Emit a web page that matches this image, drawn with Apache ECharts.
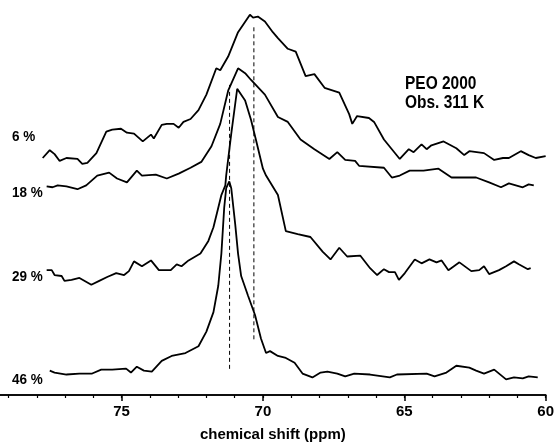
<!DOCTYPE html>
<html>
<head>
<meta charset="utf-8">
<script src="https://cdn.jsdelivr.net/npm/echarts@6/dist/echarts.min.js"></script>
<style>
  html, body { margin: 0; padding: 0; background: #fff; }
  #chart { width: 557px; height: 447px; }
</style>
</head>
<body>
<div id="chart"></div>
<script>
// spectra, [ppm, intensity incl. stacking offset]
const trace6 = [
  [77.79, 243], [77.54, 251], [77.37, 247], [77.19, 240], [76.95, 243], [76.56, 242],
  [76.39, 237], [76.21, 238], [75.89, 248], [75.54, 270], [75.33, 272], [75.02, 273],
  [74.81, 269], [74.56, 268], [74.25, 260], [73.96, 267], [73.86, 263], [73.58, 277],
  [73.40, 278], [73.16, 278], [72.98, 274], [72.81, 280], [72.56, 283], [72.28, 292],
  [72.00, 308], [71.65, 335], [71.51, 333], [71.23, 347], [70.88, 372], [70.46, 390],
  [70.35, 387], [70.18, 388], [69.93, 383], [69.65, 372], [69.47, 366], [69.12, 355],
  [68.84, 352], [68.49, 327], [68.18, 329], [67.82, 315], [67.30, 310], [66.95, 288],
  [66.84, 278], [66.67, 286], [66.25, 284], [66.07, 280], [65.72, 262], [65.44, 252],
  [65.16, 242], [64.84, 252], [64.67, 249], [64.39, 257], [64.21, 252], [64.04, 256],
  [63.61, 260], [63.16, 253], [62.88, 246], [62.70, 250], [62.18, 248], [61.82, 241],
  [61.51, 243], [61.30, 243], [60.88, 250], [60.60, 246], [60.35, 243], [60.00, 245]
];
const trace18 = [
  [77.65, 214], [77.44, 213], [77.26, 215], [76.95, 214], [76.56, 211], [76.25, 215],
  [75.86, 225], [75.44, 228], [75.16, 222], [74.81, 218], [74.46, 230], [74.28, 225],
  [73.79, 226], [73.40, 222], [72.98, 227], [72.56, 233], [72.18, 239], [71.82, 255],
  [71.51, 278], [71.23, 312], [70.88, 335], [70.63, 330], [70.42, 323], [69.93, 308],
  [69.47, 285], [69.12, 280], [68.67, 262], [68.18, 252], [67.65, 242], [67.37, 249],
  [67.09, 241], [66.74, 240], [66.60, 235], [65.72, 233], [65.44, 223], [65.16, 225],
  [64.81, 230], [64.32, 230], [63.79, 232], [63.33, 223], [62.81, 223], [62.46, 223],
  [62.00, 218], [61.58, 213], [61.30, 217], [60.81, 213], [60.60, 216], [60.42, 215]
];
const trace29 = [
  [77.65, 128], [77.47, 128], [77.37, 123], [77.12, 122], [77.02, 117], [76.77, 118],
  [76.49, 120], [76.07, 113], [75.79, 117], [75.51, 121], [75.19, 125], [74.91, 123],
  [74.74, 127], [74.56, 137], [74.28, 132], [73.96, 138], [73.68, 128], [73.26, 128],
  [73.05, 134], [72.88, 132], [72.63, 138], [72.21, 145], [71.93, 158], [71.75, 172],
  [71.58, 192], [71.47, 205], [71.33, 215], [71.30, 225], [71.12, 268], [70.91, 314],
  [70.63, 302], [70.42, 282], [70.25, 262], [70.00, 232], [69.89, 225], [69.47, 205],
  [69.19, 168], [68.77, 165], [68.32, 162], [67.89, 147], [67.61, 139], [67.30, 151],
  [67.02, 142], [66.56, 143], [66.21, 130], [65.96, 123], [65.72, 129], [65.54, 126],
  [65.33, 126], [65.19, 118], [64.98, 125], [64.63, 139], [64.39, 135], [64.11, 139],
  [63.86, 136], [63.68, 138], [63.44, 128], [63.05, 136], [62.63, 127], [62.35, 128],
  [62.18, 132], [62.00, 124], [61.65, 128], [61.40, 132], [61.12, 137], [60.95, 134],
  [60.63, 129], [60.53, 130]
];
const trace46 = [
  [77.54, 25], [77.37, 23], [76.95, 21], [76.49, 22], [76.04, 22], [75.72, 26],
  [75.33, 26], [74.84, 27], [74.67, 23], [74.46, 29], [74.21, 25], [73.93, 24],
  [73.58, 35], [73.23, 40], [72.74, 43], [72.28, 50], [72.00, 65], [71.75, 85],
  [71.58, 112], [71.47, 145], [71.37, 192], [71.30, 212], [71.19, 219], [71.12, 212],
  [70.98, 175], [70.88, 145], [70.77, 122], [70.53, 102], [70.28, 82], [70.07, 58],
  [69.89, 43], [69.75, 45], [69.47, 40], [69.19, 38], [68.88, 33], [68.60, 22],
  [68.25, 18], [67.96, 23], [67.72, 24], [67.37, 22], [67.09, 19], [66.77, 22],
  [66.21, 21], [65.51, 18], [65.26, 21], [64.21, 22], [63.93, 19], [63.51, 23],
  [63.16, 30], [62.70, 28], [62.46, 25], [62.18, 22], [61.82, 26], [61.40, 16],
  [61.12, 18], [60.81, 17], [60.60, 19], [60.28, 18]
];

// dashed reference positions (ppm) and their vertical extents
const dashPpm = [71.18, 70.32];
const dashTop = [318, 377];
const dashBottom = [25, 55];

const traceNames = ['6 %', '18 %', '29 %', '46 %'];
const majorTicks = [60, 65, 70, 75];
const minorTicks = [60, 61, 62, 63, 64, 65, 66, 67, 68, 69, 70, 71, 72, 73, 74, 75, 76, 77, 78, 79];

const FONT = '"Liberation Sans", Arial, sans-serif';

const chart = echarts.init(document.getElementById('chart'), null, { renderer: 'canvas' });

const traces = [trace6, trace18, trace29, trace46];
const series = traces.map((d, i) => ({
  name: traceNames[i],
  type: 'line',
  data: d,
  showSymbol: false,
  animation: false,
  lineStyle: { color: '#000', width: 1.8 }
}));

dashPpm.forEach((p, i) => {
  series.push({
    type: 'line',
    data: [[p, dashTop[i]], [p, dashBottom[i]]],
    showSymbol: false,
    animation: false,
    lineStyle: { color: '#000', width: 1, type: [4, 3] }
  });
});

// narrow bold text is faked with a horizontal squeeze
const labelY = [137, 193, 277, 380];
const graphic = traceNames.map((t, i) => ({
  type: 'text',
  x: 12,
  y: labelY[i],
  scaleX: 0.9,
  style: { text: t, font: 'bold 15px ' + FONT, fill: '#000', verticalAlign: 'middle' }
}));
graphic.push({
  type: 'text',
  x: 405,
  y: 75,
  scaleX: 0.86,
  style: { text: 'PEO 2000\nObs. 311 K', font: 'bold 18px ' + FONT, fill: '#000', lineHeight: 19, verticalAlign: 'top' }
});

const axisBase = {
  type: 'value',
  min: 60,
  max: 79.3,
  inverse: true,
  position: 'bottom',
  splitLine: { show: false },
  axisLine: { show: true, lineStyle: { color: '#000', width: 1.5 } }
};

chart.setOption({
  backgroundColor: '#fff',
  animation: false,
  grid: { left: 0, right: 7, top: 0, bottom: 42 },
  xAxis: [
    Object.assign({}, axisBase, {
      axisTick: { show: true, customValues: minorTicks, length: 3, lineStyle: { color: '#000', width: 1.2 } },
      axisLabel: { show: false }
    }),
    Object.assign({}, axisBase, {
      name: 'chemical shift (ppm)',
      nameLocation: 'middle',
      nameGap: 32,
      nameTextStyle: { color: '#000', fontSize: 15, fontWeight: 'bold', fontFamily: FONT },
      axisTick: { show: true, customValues: majorTicks, length: 6, lineStyle: { color: '#000', width: 1.5 } },
      axisLabel: { customValues: majorTicks, color: '#000', fontSize: 15, fontWeight: 'bold', fontFamily: FONT, margin: 9 }
    })
  ],
  yAxis: { type: 'value', min: 0, max: 405, show: false },
  graphic: graphic,
  series: series
});
</script>
</body>
</html>
